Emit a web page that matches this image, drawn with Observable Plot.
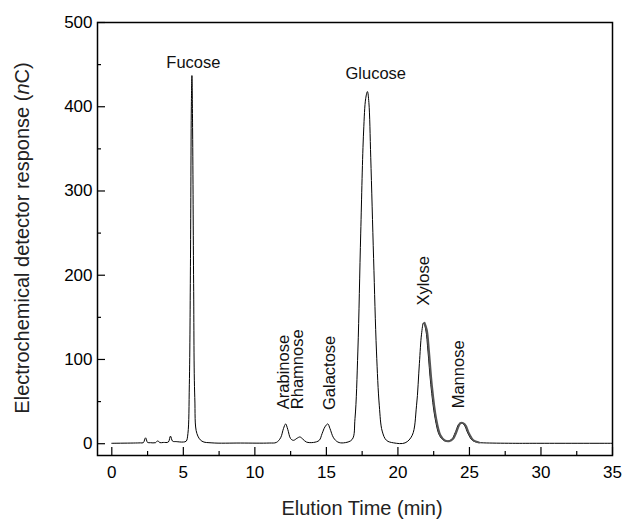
<!DOCTYPE html>
<html><head><meta charset="utf-8">
<script src="https://cdn.jsdelivr.net/npm/d3@7"></script>
<script src="https://cdn.jsdelivr.net/npm/@observablehq/plot@0.6"></script>
<style>body{margin:0;background:#fff;font-family:"Liberation Sans",Arial,sans-serif}</style>
</head><body><div id="chart"></div>
<script>
// Elution time (min) and detector response (nC)
const time = [0,1.5,2.0,2.2,2.36,2.5,2.7,3.05,3.22,3.35,3.6,3.95,4.1,4.25,4.5,5.0,5.2,5.32,5.42,5.5,5.56,5.6,5.65,5.72,5.8,5.95,6.3,7,9,11,11.5,11.8,12.0,12.15,12.3,12.5,12.7,12.95,13.15,13.35,13.6,14.1,14.5,14.7,14.9,15.1,15.25,15.5,15.8,16.2,16.8,17.0,17.2,17.4,17.6,17.75,17.87,17.97,18.1,18.3,18.5,18.7,18.9,19.2,19.7,20.5,21.0,21.3,21.5,21.65,21.79,21.95,22.1,22.3,22.6,22.9,23.2,23.5,23.8,24.0,24.32,24.6,24.9,25.2,25.6,26,28,30,35];
const response = [0.5,0.8,1,1.2,7,1.5,1.2,1.2,3.5,1.3,1.5,2,9,3,2.5,2,3,12,70,220,400,437,370,190,55,12,3,1,0.8,0.8,1.5,7,18,23.5,17,6,4,6.5,8,5.5,2,1.5,4,12,20,23.5,18,7,2,1,5,30,110,250,370,410,418,405,340,220,110,45,15,4,1,1,10,45,95,130,143.5,135,110,70,30,10,4,3,6,13,24.5,23,12,4,1.5,1,0.5,0.5,0.5];
// Peak names and where their labels sit
const peakNames = ["Fucose","Glucose","Arabinose","Rhamnose","Galactose","Xylose","Mannose"];
const labelT = [5.7,18.45,12.0,13.0,15.2,21.83,24.28];
const labelV = [452,439,41,41,40,164,42];
const labelRot = [0,0,-90,-90,-90,-90,-90];
const xMajor = [0,5,10,15,20,25,30,35];
const xMinor = [2.5,7.5,12.5,17.5,22.5,27.5,32.5];
const yMajor = [0,100,200,300,400,500];
const yMinor = [50,150,250,350,450];

const trace = time.map((t,i)=>({t, v: response[i]}));
const overlay = trace.filter(d => d.t >= 21.79 && d.t <= 25.6);
const labels = peakNames.map((n,i)=>({name:n, t:labelT[i], v:labelV[i], r:labelRot[i]}));

const font = "Liberation Sans, Arial, sans-serif";
const plot = Plot.plot({
  width: 640, height: 524,
  marginLeft: 97, marginRight: 28, marginTop: 22, marginBottom: 69,
  style: {fontFamily: font, background: "#fff", color: "#000"},
  x: {domain: [-1, 35]},
  y: {domain: [-14, 500]},
  marks: [
    Plot.axisX(xMajor, {tickSize: -8, tickPadding: 18, fontSize: 17, label: null, strokeWidth: 1.2}),
    Plot.axisX(xMinor, {tickSize: -4, text: null, label: null, strokeWidth: 1.2}),
    Plot.axisY(yMajor, {tickSize: -8, tickPadding: 13, fontSize: 17, label: null, strokeWidth: 1.2}),
    Plot.axisY(yMinor, {tickSize: -4, text: null, label: null, strokeWidth: 1.2}),
    Plot.frame({stroke: "#000", strokeWidth: 1.5}),
    Plot.line(trace, {x: "t", y: "v", stroke: "#000", strokeWidth: 1, curve: "catmull-rom"}),
    Plot.line(overlay, {x: "t", y: "v", stroke: "#555", strokeWidth: 2, curve: "catmull-rom", dx: 1}),
    Plot.text(labels.filter(d=>d.r===0), {x: "t", y: "v", text: "name", fontSize: 16.5, fill: "#111"}),
    Plot.text(labels.filter(d=>d.r!==0), {x: "t", y: "v", text: "name", rotate: -90, textAnchor: "start", fontSize: 16.5, fill: "#111"})
  ]
});
const svg = d3.select(plot);
svg.append("text").attr("x", 362).attr("y", 515).attr("text-anchor","middle")
  .attr("font-size", 20).attr("font-family", font).attr("fill","#222").text("Elution Time (min)");
const yl = svg.append("text").attr("transform","translate(29,238) rotate(-90)").attr("text-anchor","middle")
  .attr("font-size", 20).attr("font-family", font).attr("fill","#222");
yl.append("tspan").text("Electrochemical detector response (");
yl.append("tspan").attr("font-style","italic").text("n");
yl.append("tspan").text("C)");
document.getElementById("chart").appendChild(plot);
</script></body></html>
